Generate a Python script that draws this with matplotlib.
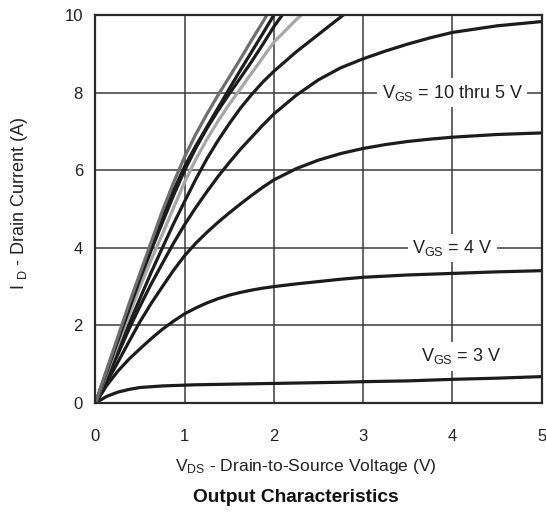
import numpy as np
import matplotlib
matplotlib.use("Agg")
import matplotlib.pyplot as plt

plt.rcParams['font.family'] = ['Liberation Sans', 'DejaVu Sans']
plt.rcParams['mathtext.fontset'] = 'custom'
plt.rcParams['mathtext.rm'] = 'Liberation Sans'
plt.rcParams['mathtext.it'] = 'Liberation Sans'

# drain-source voltage sample points (V)
vds = [0, 0.125, 0.25, 0.375, 0.5, 0.625, 0.75, 0.875, 1.0, 1.125, 1.25, 1.375, 1.5,
       1.625, 1.75, 1.875, 2.0, 2.25, 2.5, 2.75, 3.0, 3.25, 3.5, 3.75, 4.0, 4.5, 5.0]

# drain current (A) per gate drive
id_c1 = [0, 0.85, 1.7, 2.55, 3.35, 4.15, 4.95, 5.68, 6.35, 6.93, 7.45, 7.94, 8.4, 8.87,
         9.35, 9.82, 10.3]
id_c2 = [0, 0.83, 1.65, 2.48, 3.3, 4.06, 4.8, 5.48, 6.1, 6.63, 7.12, 7.61, 8.1, 8.58,
         9.05, 9.52, 10.0, 10.9]
id_c3 = [0, 0.8, 1.6, 2.4, 3.2, 3.94, 4.65, 5.35, 6.0, 6.57, 7.08, 7.54, 7.97, 8.38,
         8.8, 9.24, 9.7, 10.5]
id_c4 = [0, 0.75, 1.5, 2.25, 3.0, 3.7, 4.35, 5.03, 5.7, 6.28, 6.8, 7.27, 7.7, 8.1,
         8.5, 8.9, 9.3, 9.88, 10.4]
id_c5 = [0, 0.68, 1.35, 2.03, 2.7, 3.37, 4.0, 4.62, 5.2, 5.77, 6.3, 6.77, 7.2, 7.6,
         7.95, 8.27, 8.55, 9.05, 9.5, 9.95, 10.4]
id_c6 = [0, 0.63, 1.25, 1.9, 2.5, 3.07, 3.6, 4.12, 4.6, 5.04, 5.45, 5.84, 6.2, 6.54,
         6.85, 7.16, 7.45, 7.93, 8.33, 8.64, 8.87, 9.07, 9.25, 9.41, 9.55, 9.72, 9.83]
id_c7 = [0, 0.53, 1.05, 1.58, 2.1, 2.57, 3.0, 3.42, 3.8, 4.12, 4.4, 4.66, 4.9, 5.13,
         5.35, 5.56, 5.75, 6.04, 6.26, 6.43, 6.56, 6.66, 6.74, 6.8, 6.85, 6.92, 6.96]
id_vgs4 = [0, 0.45, 0.82, 1.13, 1.4, 1.66, 1.9, 2.11, 2.3, 2.45, 2.58, 2.69, 2.78, 2.85,
           2.91, 2.96, 3.0, 3.07, 3.13, 3.19, 3.24, 3.27, 3.3, 3.32, 3.34, 3.38, 3.41]
id_vgs3 = [0, 0.17, 0.28, 0.35, 0.4, 0.42, 0.44, 0.45, 0.46, 0.47, 0.475, 0.48, 0.485,
           0.49, 0.495, 0.5, 0.505, 0.515, 0.525, 0.535, 0.55, 0.56, 0.57, 0.59, 0.61,
           0.64, 0.68]

curves = [
    (id_c7, '#1c1c1c'), (id_vgs4, '#1c1c1c'), (id_vgs3, '#1c1c1c'),
    (id_c6, '#1c1c1c'), (id_c5, '#1c1c1c'), (id_c4, '#a6a6a6'),
    (id_c3, '#1c1c1c'), (id_c2, '#1c1c1c'), (id_c1, '#6e6e6e'),
]

labels = [r'V$_{\mathrm{GS}}$ = 10 thru 5 V', r'V$_{\mathrm{GS}}$ = 4 V', r'V$_{\mathrm{GS}}$ = 3 V']
label_pos = [(4.0, 8.0), (4.0, 4.0), (4.1, 1.2)]

fig = plt.figure(figsize=(5.46, 5.13), dpi=100)
ax = fig.add_axes([0.1749, 0.2144, 0.8169, 0.7564])

for ys, col in curves:
    ax.plot(vds[:len(ys)], ys, color=col, lw=2.3, solid_joinstyle='round',
            solid_capstyle='round', zorder=3)

ax.set_xlim(0, 5)
ax.set_ylim(0, 10)
ax.set_xticks(range(0, 6))
ax.set_yticks(range(0, 11, 2))
ax.grid(True, color='#3a3a3a', lw=1.1, zorder=1)
ax.tick_params(length=0, labelsize=12, colors='#222222')
ax.tick_params(axis='x', pad=19)
ax.tick_params(axis='y', pad=9)
for sp in ax.spines.values():
    sp.set_color('#2a2a2a')
    sp.set_linewidth(1.6)
    sp.set_zorder(4)

for txt, (x, y) in zip(labels, label_pos):
    ax.text(x, y, txt, ha='center', va='center', fontsize=13, color='#222222', zorder=5,
            bbox=dict(facecolor='white', edgecolor='none', pad=3))

fig.text(0.561, 1 - 467 / 513, r'V$_{\mathrm{DS}}$ - Drain-to-Source Voltage (V)',
         ha='center', va='center', fontsize=12.6, color='#222222')
fig.text(0.035, 1 - 203 / 513, r'I $_{\mathrm{D}}$ - Drain Current (A)', rotation=90,
         ha='center', va='center', fontsize=13, color='#222222')
fig.text(0.542, 1 - 497 / 513, 'Output Characteristics', ha='center', va='center',
         fontsize=13.8, fontweight='bold', color='#111111')

fig.savefig('out.png', dpi=100)
